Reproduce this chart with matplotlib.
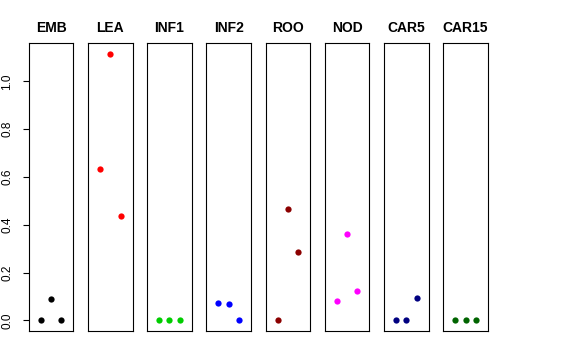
import matplotlib
matplotlib.use("Agg")
import matplotlib.pyplot as plt

plt.rcParams['font.family'] = ['Liberation Sans', 'DejaVu Sans']

# tejidos y valores (3 puntos por panel)
tejidos = ['EMB', 'LEA', 'INF1', 'INF2', 'ROO', 'NOD', 'CAR5', 'CAR15']
valores = [
    [0.0, 0.088, 0.0],
    [0.633, 1.117, 0.437],
    [0.0, 0.0, 0.0],
    [0.074, 0.067, 0.0],
    [0.0, 0.464, 0.285],
    [0.080, 0.360, 0.122],
    [0.0, 0.0, 0.092],
    [0.0, 0.0, 0.0],
]
colores = ['black', 'red', '#00CD00', 'blue', '#8B0000', 'magenta', '#000080', '#006400']
replicas = [1, 2, 3]

fig, axes = plt.subplots(1, 8, sharey=True, figsize=(5.76, 3.6), dpi=100)
plt.subplots_adjust(left=0.0498, right=0.847, top=0.881, bottom=0.0806, wspace=0.325)

ymax = max(max(v) for v in valores)
for i, ax in enumerate(axes):
    ax.plot(replicas, valores[i], 'o', color=colores[i], markersize=4.5, markeredgewidth=0)
    ax.set_xlim(-0.16, 4.16)
    ax.set_ylim(-0.04 * ymax, ymax * 1.04)
    ax.set_xticks([])
    ax.set_title(tejidos[i], fontsize=10, fontweight='bold', pad=8)
    for s in ax.spines.values():
        s.set_linewidth(0.8)
        s.set_color('black')
    if i == 0:
        ax.set_yticks([0.0, 0.2, 0.4, 0.6, 0.8, 1.0])
        ax.set_yticklabels(['0.0', '0.2', '0.4', '0.6', '0.8', '1.0'], rotation=90, va='center', fontsize=8.5)
        ax.tick_params(axis='y', length=4, width=0.8, pad=7)
    else:
        ax.tick_params(axis='y', left=False, labelleft=False)

plt.savefig('out.png', dpi=100)
